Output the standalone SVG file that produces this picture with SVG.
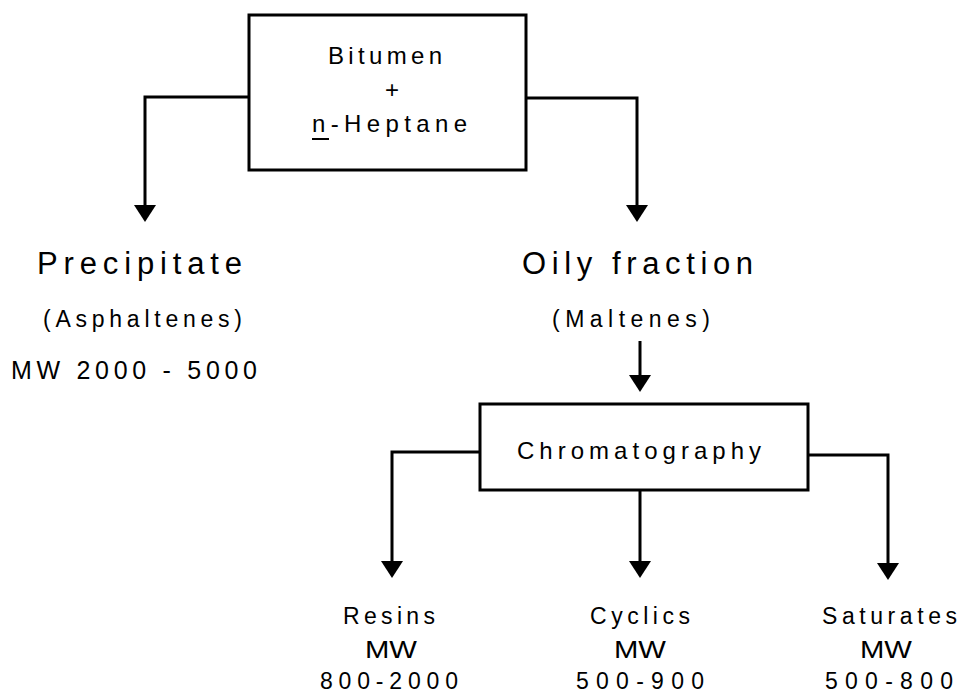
<svg xmlns="http://www.w3.org/2000/svg" width="963" height="695" viewBox="0 0 963 695">
  <style>
    .box { fill: none; stroke: #000; stroke-width: 3; }
    .wire { fill: none; stroke: #000; stroke-width: 3; }
    .head { fill: #000; }
    text { font-family: "Liberation Sans", Arial, sans-serif; fill: #000; }
    .t1 { font-size: 24px; }
    .big { font-size: 31px; }
    .sub { font-size: 23px; }
    .mw { font-size: 25px; }
    .lbl { font-size: 23px; }
  </style>
  <defs>
    <path id="arrowhead" class="head" d="M-11,-17 L11,-17 L0,0 Z"/>
  </defs>

  <!-- connectors -->
  <g id="connectors">
    <path class="wire" d="M249,97 H145 V206"/>
    <use href="#arrowhead" x="145" y="222"/>
    <path class="wire" d="M526,98 H637 V206"/>
    <use href="#arrowhead" x="637" y="222"/>
    <path class="wire" d="M640,341 V376"/>
    <use href="#arrowhead" x="640" y="392"/>
    <path class="wire" d="M480,452 H392 V562"/>
    <use href="#arrowhead" x="392" y="578"/>
    <path class="wire" d="M640,490 V562"/>
    <use href="#arrowhead" x="640" y="578"/>
    <path class="wire" d="M808,455 H888 V564"/>
    <use href="#arrowhead" x="888" y="580"/>
  </g>

  <!-- feed: bitumen + n-heptane -->
  <g id="feed">
    <rect class="box" x="249" y="15" width="277" height="155"/>
    <text class="t1" x="328" y="64" textLength="114" lengthAdjust="spacing">Bitumen</text>
    <text class="t1" x="392" y="98" text-anchor="middle">+</text>
    <text class="t1" x="312" y="132" textLength="155" lengthAdjust="spacing">n-Heptane</text>
    <line x1="312" y1="139" x2="329" y2="139" stroke="#000" stroke-width="2"/>
  </g>

  <!-- precipitate -->
  <g id="precipitate">
    <text class="big" x="37" y="274" textLength="205" lengthAdjust="spacing">Precipitate</text>
    <text class="sub" x="43" y="327" textLength="199" lengthAdjust="spacing">(Asphaltenes)</text>
    <text class="mw" x="11" y="379" textLength="246" lengthAdjust="spacing">MW 2000 - 5000</text>
  </g>

  <!-- oily fraction -->
  <g id="oily">
    <text class="big" x="522" y="274" textLength="231" lengthAdjust="spacing">Oily fraction</text>
    <text class="sub" x="552" y="327" textLength="158" lengthAdjust="spacing">(Maltenes)</text>
  </g>

  <!-- chromatography -->
  <g id="chromatography">
    <rect class="box" x="480" y="404" width="328" height="86"/>
    <text class="t1" x="517" y="459" textLength="244" lengthAdjust="spacing">Chromatography</text>
  </g>

  <!-- fractions -->
  <g id="resins">
    <text class="lbl" x="343" y="624" textLength="92" lengthAdjust="spacing">Resins</text>
    <text class="lbl" x="365" y="658" textLength="52" lengthAdjust="spacingAndGlyphs">MW</text>
    <text class="lbl" x="320" y="689" textLength="138" lengthAdjust="spacing">800-2000</text>
  </g>
  <g id="cyclics">
    <text class="lbl" x="590" y="624" textLength="100" lengthAdjust="spacing">Cyclics</text>
    <text class="lbl" x="614" y="658" textLength="52" lengthAdjust="spacingAndGlyphs">MW</text>
    <text class="lbl" x="576" y="689" textLength="128" lengthAdjust="spacing">500-900</text>
  </g>
  <g id="saturates">
    <text class="lbl" x="822" y="624" textLength="135" lengthAdjust="spacing">Saturates</text>
    <text class="lbl" x="860" y="658" textLength="52" lengthAdjust="spacingAndGlyphs">MW</text>
    <text class="lbl" x="825" y="689" textLength="128" lengthAdjust="spacing">500-800</text>
  </g>
</svg>
